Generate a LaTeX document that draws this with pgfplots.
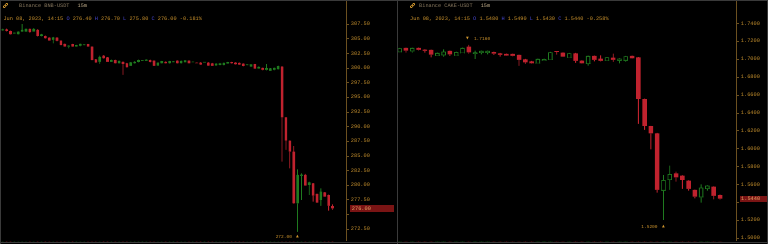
\documentclass[border=0pt]{standalone}
\usepackage{pgfplots}
\pgfplotsset{compat=1.18}
\usepackage{pgfplotstable}
\usepackage{fontspec}
\newfontfamily\mono{Liberation Mono}
\newfontfamily\dejavu{DejaVu Sans}
\definecolor{cred}{HTML}{C0222E}
\definecolor{cgreen}{HTML}{1F7A1F}
\definecolor{axcol}{HTML}{6B5020}
\definecolor{tkcol}{HTML}{C8922E}
\definecolor{boxred}{HTML}{7A1414}
\definecolor{boxtxt}{HTML}{E8A868}
\definecolor{hdr}{HTML}{D0962E}
\definecolor{hdrlight}{HTML}{C8B490}
\definecolor{ohlc}{HTML}{4A4AD8}
\definecolor{dimtxt}{HTML}{8C7C62}
\definecolor{framecol}{HTML}{3A3A3A}

\pgfplotstableread{
x o h l c
0 306.40 306.70 306.30 306.60
3 305.90 306.00 305.85 305.95
4 305.75 306.25 305.70 306.20
5 306.20 307.50 306.10 306.50
6 306.20 306.75 306.10 306.65
8 306.20 306.80 306.15 306.65
10 305.45 305.80 305.40 305.75
13 304.80 305.30 304.20 305.20
17 303.65 303.85 303.35 303.80
19 303.65 303.95 303.60 303.90
20 303.75 304.15 303.70 304.10
21 303.90 304.00 303.85 303.95
25 301.05 302.10 300.70 301.90
28 301.05 301.40 301.00 301.35
30 300.80 301.25 300.75 301.20
33 300.35 301.00 300.30 300.95
34 300.80 301.10 300.75 301.05
35 301.00 301.40 300.95 301.35
36 301.22 301.30 301.20 301.26
37 301.20 301.45 301.15 301.40
40 300.40 300.95 300.30 300.90
41 300.80 301.20 300.75 301.15
43 300.80 301.20 300.75 301.15
44 301.00 301.10 300.95 301.03
46 300.80 301.25 300.75 301.20
47 300.95 301.35 300.90 301.30
49 301.00 301.05 300.95 301.02
52 300.95 301.00 300.90 300.97
55 300.40 300.80 300.35 300.75
56 300.50 300.85 300.45 300.80
57 300.50 300.90 300.45 300.85
58 300.75 301.05 300.70 301.00
63 300.50 300.55 300.45 300.52
64 300.22 300.65 300.15 300.60
66 299.90 300.25 299.85 300.20
68 299.65 300.65 299.60 299.95
69 299.50 299.98 299.45 299.93
70 299.65 300.05 299.60 299.99
71 299.76 300.40 299.70 300.33
76 276.88 282.69 272.00 281.72
77 281.55 282.00 277.45 281.80
79 280.00 280.60 278.30 280.47
82 277.45 279.44 276.43 278.87
}\LGreen

\pgfplotstableread{
x o h l c
1 306.60 306.70 306.25 306.30
2 306.30 306.35 305.70 305.75
7 306.65 306.70 306.05 306.10
9 306.50 306.60 305.40 305.45
11 305.45 305.50 305.00 305.05
12 305.17 305.20 304.60 304.65
14 305.17 305.25 304.55 304.60
15 304.65 304.70 303.85 303.90
16 304.10 304.15 303.60 303.65
18 304.05 304.10 303.60 303.65
22 304.05 304.10 303.60 303.65
23 303.65 303.70 301.30 301.35
24 301.45 301.50 300.85 300.90
26 302.10 302.15 301.60 301.65
27 301.80 301.85 301.00 301.05
29 301.35 301.40 300.75 300.80
31 301.05 301.10 298.80 300.65
32 300.80 300.85 300.05 300.10
38 301.35 301.40 300.95 301.00
39 301.25 301.30 300.30 300.35
42 301.05 301.10 300.75 300.80
45 301.25 301.30 300.75 300.80
48 301.25 301.30 300.75 300.80
50 300.85 300.90 300.80 300.82
51 300.90 300.95 300.50 300.55
53 300.90 300.95 300.30 300.40
54 300.80 300.85 300.30 300.35
59 301.00 301.05 300.75 300.80
60 300.90 300.95 300.55 300.60
61 300.85 300.90 300.50 300.55
62 300.75 300.80 300.25 300.30
65 300.67 300.70 299.80 299.87
67 300.00 300.05 299.60 299.65
72 300.22 300.30 284.00 291.57
73 291.57 291.60 285.99 287.58
74 287.58 287.60 282.86 285.70
75 285.70 286.67 276.80 276.88
78 281.72 281.90 279.85 279.90
80 280.30 280.35 277.17 278.19
81 278.48 278.55 276.90 277.00
83 278.76 278.80 277.95 278.02
84 278.30 278.35 275.63 276.43
85 276.40 276.70 275.80 276.00
}\LRed

\pgfplotstableread{
x o h l c
0 1.7083 1.7125 1.7076 1.7120
2 1.7094 1.7128 1.7072 1.7124
6 1.7042 1.7072 1.7038 1.7068
7 1.7050 1.7109 1.7027 1.7083
9 1.7046 1.7083 1.7042 1.7079
10 1.7072 1.7128 1.7068 1.7124
12 1.7068 1.7094 1.7000 1.7072
13 1.7076 1.7094 1.7053 1.7091
14 1.7076 1.7094 1.7053 1.7091
22 1.6957 1.7005 1.6953 1.7001
23 1.6990 1.7005 1.6986 1.6998
24 1.6998 1.7080 1.6994 1.7076
27 1.7023 1.7068 1.7020 1.7065
30 1.6953 1.7038 1.6927 1.7035
33 1.6986 1.7023 1.6983 1.7020
35 1.6990 1.7008 1.6953 1.7005
36 1.6990 1.7035 1.6968 1.7031
42 1.5538 1.5705 1.5200 1.5649
43 1.5657 1.5809 1.5538 1.5716
48 1.5463 1.5601 1.5396 1.5564
49 1.5556 1.5590 1.5530 1.5586
}\RGreen

\pgfplotstableread{
x o h l c
1 1.7124 1.7128 1.7072 1.7094
3 1.7124 1.7128 1.7098 1.7102
4 1.7100 1.7109 1.7072 1.7097
5 1.7102 1.7105 1.7020 1.7050
8 1.7091 1.7095 1.7035 1.7053
11 1.7139 1.7160 1.7061 1.7076
15 1.7079 1.7083 1.7046 1.7061
16 1.7065 1.7068 1.7027 1.7046
17 1.7057 1.7060 1.7035 1.7038
18 1.7057 1.7060 1.7031 1.7035
19 1.7046 1.7050 1.6923 1.6990
20 1.6998 1.7001 1.6949 1.6964
21 1.6975 1.6979 1.6950 1.6953
25 1.7087 1.7090 1.7050 1.7080
26 1.7072 1.7076 1.7023 1.7027
28 1.7065 1.7068 1.6957 1.6979
29 1.6983 1.6986 1.6949 1.6953
31 1.7035 1.7038 1.6975 1.6990
32 1.7005 1.7042 1.6975 1.6979
34 1.7016 1.7061 1.6968 1.6990
37 1.7035 1.7038 1.7005 1.7009
38 1.7020 1.7023 1.6275 1.6554
39 1.6554 1.6557 1.6208 1.6252
40 1.6252 1.6255 1.5992 1.6171
41 1.6171 1.6175 1.5508 1.5538
44 1.5724 1.5742 1.5631 1.5679
45 1.5698 1.5701 1.5549 1.5649
46 1.5642 1.5645 1.5530 1.5549
47 1.5538 1.5541 1.5444 1.5463
50 1.5575 1.5578 1.5433 1.5471
51 1.5480 1.5490 1.5430 1.5440
}\RRed

\pgfplotsset{
 candle axis/.style={
  scale only axis, anchor=south west,
  axis x line=none, axis y line=right,
  axis line style={draw=axcol, line width=0.6pt},
  every outer y axis line/.append style={-},
  y axis line style={-},
  tick align=outside, major tick length=2.5pt,
  ytick style={draw=axcol, line width=0.5pt},
  extra y tick style={grid=none},
  yticklabel style={font=\mono\fontsize{5.3}{6}\selectfont, text=tkcol, inner sep=1.5pt},
  /pgf/number format/assume math mode=true,
  /pgf/number format/fixed,
  /pgf/number format/fixed zerofill,
 },
 cbar/.style 2 args={ybar, bar shift=0pt, bar width=#2, draw=none, fill=#1, mark=none},
}
% body top / bottom with a minimum visible height
\newcommand{\Top}[1]{max(\thisrow{o},\thisrow{c},(\thisrow{o}+\thisrow{c})/2+#1)}
\newcommand{\Bot}[1]{min(\thisrow{o},\thisrow{c},(\thisrow{o}+\thisrow{c})/2-#1)}

% filled candles: wick to high, body, clear below body, wick to body, clear below low
% #1 table, #2 colour, #3 body w, #4 body cover w, #5 wick w, #6 wick cover w, #7 eps
\newcommand{\filled}[7]{%
  \addplot[cbar={#2}{#5}] table[x=x, y=h] #1;
  \addplot[cbar={#2}{#3}] table[x=x, y expr={\Top{#7}}] #1;
  \addplot[cbar={black}{#4}] table[x=x, y expr={\Bot{#7}}] #1;
  \addplot[cbar={#2}{#5}] table[x=x, y expr={\Bot{#7}}] #1;
  \addplot[cbar={black}{#6}] table[x=x, y=l] #1;
}

\begin{document}
\begin{tikzpicture}
\fill[black] (0pt,0pt) rectangle (768pt,244pt);

% ---------------- left panel: BNB-USDT
\begin{axis}[candle axis, at={(0pt,3pt)}, width=346.7pt, height=241pt,
  xmin=-0.7, xmax=88.66, ymin=270.45, ymax=311.6,
  ytick={272.5,277.5,280,282.5,285,287.5,290,292.5,295,297.5,300,302.5,305,307.5},
  extra y ticks={275}, extra y tick labels={},
  /pgf/number format/precision=2]
\filled{\LGreen}{cgreen}{2.6pt}{4.6pt}{0.8pt}{2.8pt}{0.09}
\filled{\LRed}{cred}{2.6pt}{4.6pt}{0.8pt}{2.8pt}{0.09}
\node[anchor=east, inner sep=0pt, font=\mono\fontsize{4.5}{5}\selectfont, text=hdr] at (axis cs:74.6,271.13) {272.00};
\node[inner sep=0pt, font=\dejavu\fontsize{3.6}{4}\selectfont, text=hdr] at (axis cs:76,271.13) {▲};
\coordinate (Lp) at (axis cs:88.66,276);
\end{axis}

% ---------------- right panel: CAKE-USDT
\begin{axis}[candle axis, at={(398pt,3pt)}, width=338.7pt, height=241pt,
  xmin=-0.27, xmax=53.66, ymin=1.4968, ymax=1.766,
  ytick={1.50,1.52,1.56,1.58,1.60,1.62,1.64,1.66,1.68,1.70,1.72,1.74},
  extra y ticks={1.54}, extra y tick labels={},
  /pgf/number format/precision=4]
% hollow green candles
\addplot[cbar={cgreen}{0.9pt}] table[x=x, y=h] \RGreen;
\addplot[cbar={cgreen}{4.4pt}] table[x=x, y expr={\Top{0.0006}}] \RGreen;
\addplot[cbar={black}{2.6pt}] table[x=x, y expr={\Top{0.0006}-0.0009}] \RGreen;
\addplot[cbar={cgreen}{4.4pt}] table[x=x, y expr={\Bot{0.0006}}] \RGreen;
\addplot[cbar={black}{6.5pt}] table[x=x, y expr={\Bot{0.0006}-0.0009}] \RGreen;
\addplot[cbar={cgreen}{0.9pt}] table[x=x, y expr={\Bot{0.0006}-0.0009}] \RGreen;
\addplot[cbar={black}{2.9pt}] table[x=x, y=l] \RGreen;
% filled red candles
\filled{\RRed}{cred}{4.5pt}{6.5pt}{0.9pt}{2.9pt}{0.0006}
\node[inner sep=0pt, font=\dejavu\fontsize{3.6}{4}\selectfont, text=hdr] at (axis cs:10.8,1.7225) {▼};
\node[anchor=west, inner sep=0pt, font=\mono\fontsize{4.5}{5}\selectfont, text=hdr] at (axis cs:11.8,1.7225) {1.7160};
\node[anchor=east, inner sep=0pt, font=\mono\fontsize{4.5}{5}\selectfont, text=hdr] at (axis cs:41.1,1.5127) {1.5200};
\node[inner sep=0pt, font=\dejavu\fontsize{3.6}{4}\selectfont, text=hdr] at (axis cs:42,1.5127) {▲};
\coordinate (Rp) at (axis cs:53.66,1.544);
\end{axis}

% current price boxes
\node[anchor=west, fill=boxred, text=boxtxt, inner xsep=2pt, inner ysep=0pt, text width=40pt, align=left,
  minimum height=6.6pt, font=\mono\fontsize{5.3}{6}\selectfont] at ([xshift=3pt]Lp) {276.00};
\node[anchor=west, fill=boxred, text=boxtxt, inner xsep=1pt, inner ysep=0pt, text width=26pt, align=left,
  minimum height=5.6pt, font=\mono\fontsize{5.3}{6}\selectfont] at ([xshift=3.3pt]Rp) {1.5440};

% frame lines
\draw[framecol, line width=1.2pt] (397.3pt,0pt) -- (397.3pt,244pt);
\draw[framecol, line width=1pt] (0pt,1.5pt) -- (768pt,1.5pt);
\draw[framecol, line width=0.8pt] (0.4pt,0pt) -- (0.4pt,244pt);
\draw[framecol, line width=0.8pt] (767.6pt,0pt) -- (767.6pt,244pt);
\draw[framecol, line width=0.8pt] (0pt,243.6pt) -- (768pt,243.6pt);

% headers
\begin{scope}[shift={(5.5pt,238.5pt)}, rotate=45]
\draw[hdr, line width=0.6pt, rounded corners=0.7pt] (-2.6pt,-0.9pt) rectangle (0.4pt,0.9pt);
\draw[hdr, line width=0.6pt, rounded corners=0.7pt] (-0.4pt,-0.9pt) rectangle (2.6pt,0.9pt);
\end{scope}
\begin{scope}[shift={(412.5pt,238.5pt)}, rotate=45]
\draw[hdr, line width=0.6pt, rounded corners=0.7pt] (-2.6pt,-0.9pt) rectangle (0.4pt,0.9pt);
\draw[hdr, line width=0.6pt, rounded corners=0.7pt] (-0.4pt,-0.9pt) rectangle (2.6pt,0.9pt);
\end{scope}
\node[anchor=west, inner sep=0pt, font=\mono\fontsize{5.25}{6}\selectfont] at (19pt,238.5pt)
  {\textcolor{dimtxt}{Binance BNB-USDT}\hspace{8pt}\textcolor{hdrlight}{15m}};
\node[anchor=west, inner sep=0pt, font=\mono\fontsize{5.25}{6}\selectfont] at (3.3pt,225pt)
  {\textcolor{hdr}{Jun 08, 2023, 14:15} \textcolor{ohlc}{O} \textcolor{hdr}{276.40} \textcolor{ohlc}{H} \textcolor{hdr}{276.70} \textcolor{ohlc}{L} \textcolor{hdr}{275.80} \textcolor{ohlc}{C} \textcolor{hdr}{276.00} \textcolor{hdr}{-0.181\%}};
\node[anchor=west, inner sep=0pt, font=\mono\fontsize{5.25}{6}\selectfont] at (419pt,238.5pt)
  {\textcolor{dimtxt}{Binance CAKE-USDT}\hspace{8pt}\textcolor{hdrlight}{15m}};
\node[anchor=west, inner sep=0pt, font=\mono\fontsize{5.25}{6}\selectfont] at (410pt,225pt)
  {\textcolor{hdr}{Jun 08, 2023, 14:15} \textcolor{ohlc}{O} \textcolor{hdr}{1.5480} \textcolor{ohlc}{H} \textcolor{hdr}{1.5490} \textcolor{ohlc}{L} \textcolor{hdr}{1.5430} \textcolor{ohlc}{C} \textcolor{hdr}{1.5440} \textcolor{hdr}{-0.258\%}};

\pgfresetboundingbox
\useasboundingbox (0pt,0pt) rectangle (768pt,244pt);
\end{tikzpicture}
\end{document}
